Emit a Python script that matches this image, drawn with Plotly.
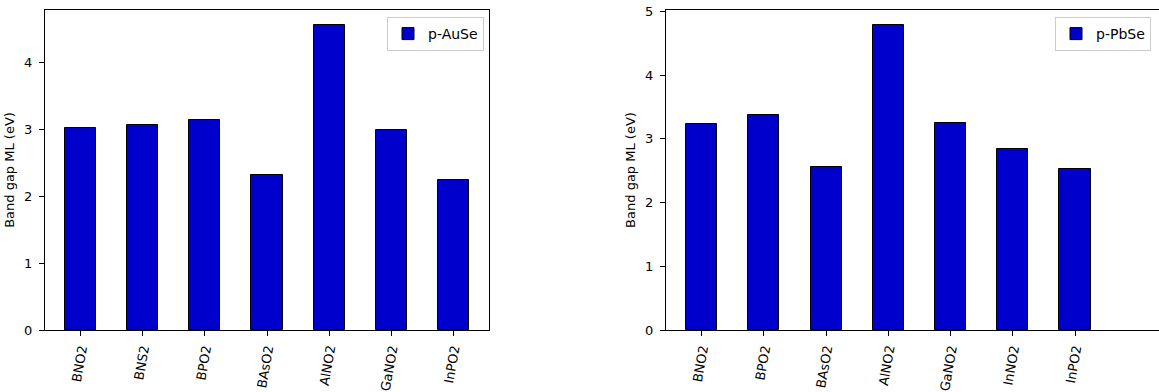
import plotly.graph_objects as go

# ---- data ----
cats_ause = ["BNO2", "BNS2", "BPO2", "BAsO2", "AlNO2", "GaNO2", "InPO2"]
gap_ause = [3.02, 3.07, 3.14, 2.32, 4.56, 2.99, 2.25]

cats_pbse = ["BNO2", "BPO2", "BAsO2", "AlNO2", "GaNO2", "InNO2", "InPO2"]
gap_pbse = [3.23, 3.37, 2.55, 4.79, 3.24, 2.84, 2.52]

yticks_left = [0, 1, 2, 3, 4]
yticks_right = [0, 1, 2, 3, 4, 5]

W, H = 1159, 392
FONT = "DejaVu Sans"
BAR = "#0000CD"

fig = go.Figure()
fig.add_trace(go.Bar(
    x=cats_ause, y=gap_ause, name="p-AuSe", width=0.5, showlegend=True,
    marker=dict(color=BAR, line=dict(color="black", width=1)),
    xaxis="x", yaxis="y", legend="legend",
))
fig.add_trace(go.Bar(
    x=cats_pbse, y=gap_pbse, name="p-PbSe", width=0.5, showlegend=True,
    marker=dict(color=BAR, line=dict(color="black", width=1)),
    xaxis="x2", yaxis="y2", legend="legend2",
))

ydom = [62 / H, 382 / H]
common_x = dict(
    type="category", showline=True, linecolor="black", linewidth=1,
    ticks="outside", ticklen=5, tickcolor="black", tickangle=-80,
    showgrid=False, zeroline=False, automargin=False,
    tickfont=dict(family=FONT, size=13, color="black"),
)
common_y = dict(
    showline=True, linecolor="black", linewidth=1,
    ticks="outside", ticklen=5, tickcolor="black", ticklabelstandoff=4,
    showgrid=False, zeroline=False, automargin=False,
    tickfont=dict(family=FONT, size=13, color="black"),
    title=dict(text="Band gap ML (eV)", font=dict(family=FONT, size=13, color="black"), standoff=6),
)

legend_style = dict(
    xanchor="left", yanchor="top", bgcolor="white",
    bordercolor="#cccccc", borderwidth=1,
    font=dict(family=FONT, size=14, color="black"),
)

fig.update_layout(
    width=W, height=H,
    margin=dict(l=0, r=0, t=0, b=0),
    paper_bgcolor="white", plot_bgcolor="white",
    font=dict(family=FONT, size=13, color="black"),
    showlegend=True,
    bargap=0,
    xaxis=dict(common_x, domain=[45 / W, 489 / W], anchor="y", mirror=True,
               range=[-0.575, 6.575]),
    yaxis=dict(common_y, domain=ydom, anchor="x", mirror=True,
               range=[0, 4.79], tickvals=yticks_left),
    xaxis2=dict(common_x, domain=[666 / W, 1.0], anchor="y2", mirror=True,
                range=[-0.574, 7.35]),
    yaxis2=dict(common_y, domain=ydom, anchor="x2", mirror=False,
                range=[0, 5.02], tickvals=yticks_right),
    legend=dict(legend_style, x=387 / W, y=(H - 17) / H),
    legend2=dict(legend_style, x=1055 / W, y=(H - 17) / H),
)

fig.write_html("out.html")
